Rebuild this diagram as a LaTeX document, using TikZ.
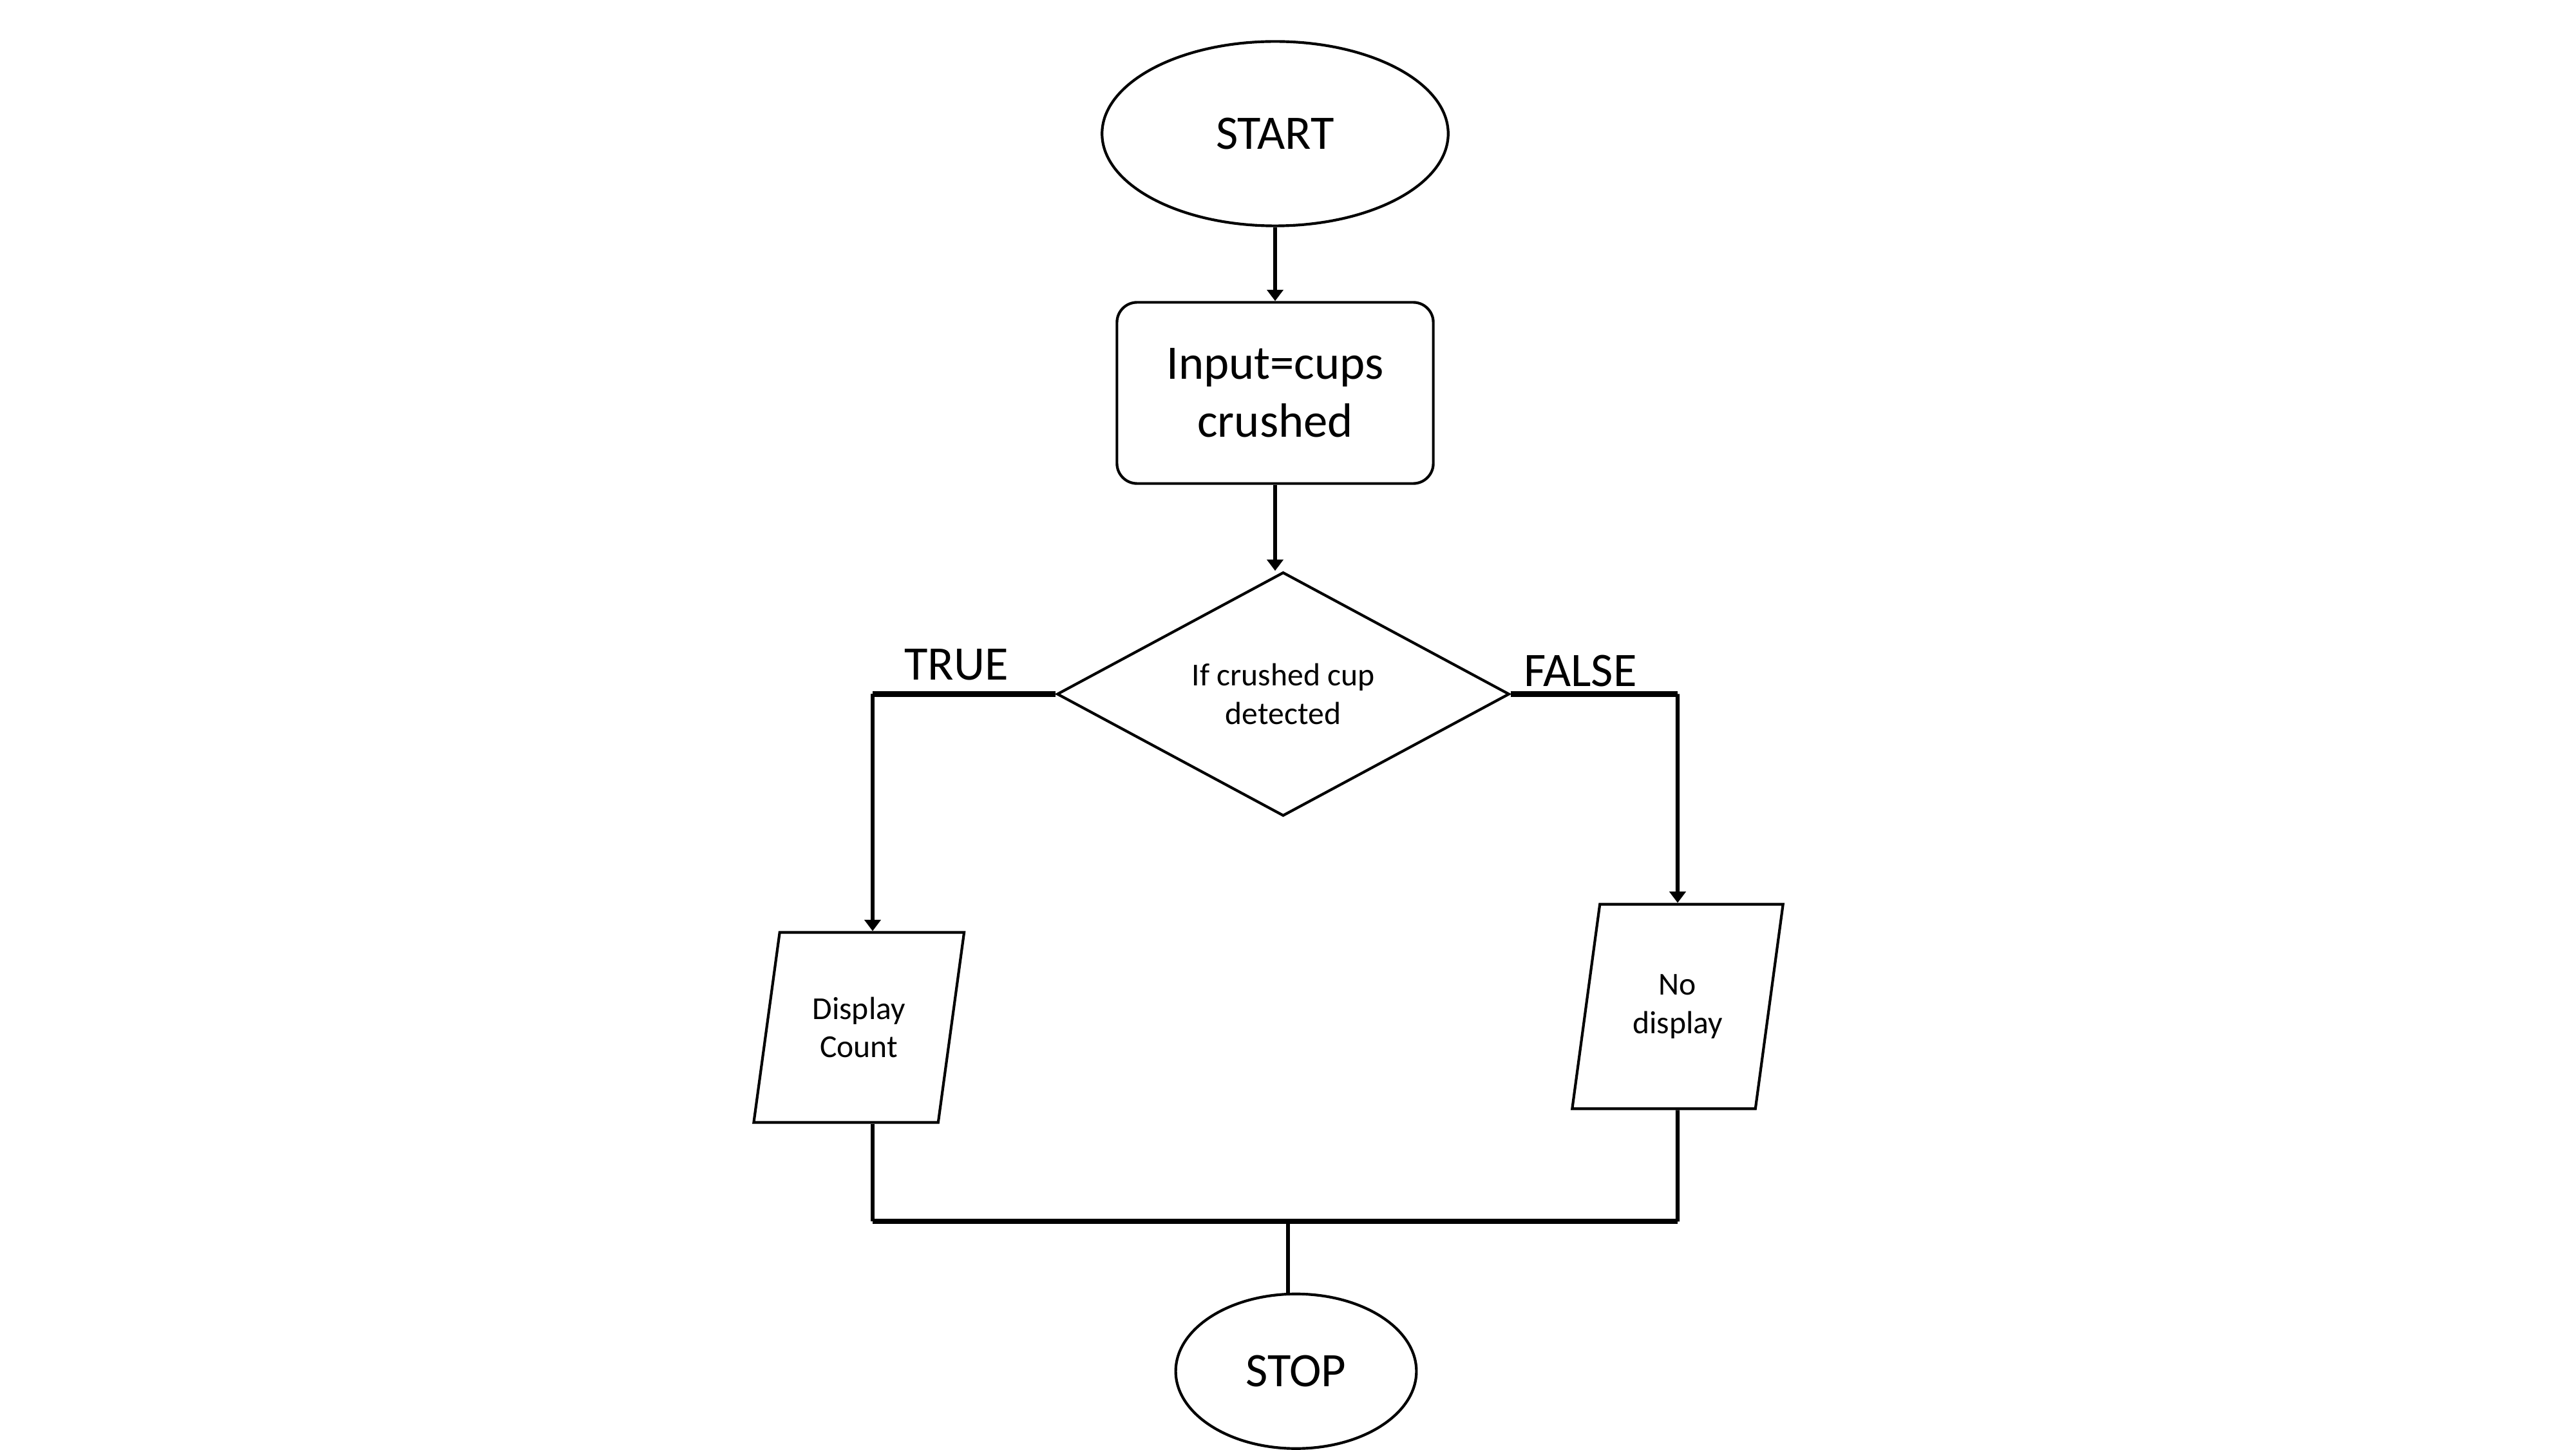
\documentclass[tikz,border=0pt]{standalone}
\usepackage{fontspec}
\setmainfont{Carlito}
\usepackage{tikz}
\usetikzlibrary{shapes.geometric, arrows.meta}

\begin{document}
\begin{tikzpicture}[
        line width=0.95pt,
        big/.style={font=\fontsize{17}{20.4}\selectfont},
        small/.style={font=\fontsize{11.3}{13.6}\selectfont},
        term/.style={draw, ellipse, inner sep=0pt, big},
        proc/.style={draw, rounded corners=0.25cm, minimum width=3.93cm, minimum height=2.25cm, align=center, big},
        decide/.style={draw, diamond, inner sep=0pt, minimum width=5.62cm, minimum height=2.88cm, align=center, small},
        io/.style={draw, trapezium, trapezium left angle=76, trapezium right angle=104, trapezium stretches=true, inner sep=0pt, minimum width=2.62cm, align=center, small},
        link/.style={line width=1.4pt},
        arr/.style={link, -{Triangle[length=1.4mm, width=2mm]}},
        bus/.style={line width=1.9pt}
    ]
        \useasboundingbox (0,0) rectangle (32,18);
        \node[term, minimum width=4.3cm, minimum height=2.29cm] (start) at (15.84,16.34) {START};
        \node[proc] (input) at (15.84,13.12) {Input=cups\\crushed};
        \node[decide] (check) at (15.94,9.38) {If crushed cup\\detected};
        \node[io, minimum height=2.36cm] (count) at (10.67,5.24) {Display\\Count};
        \node[io, minimum height=2.54cm] (nodisp) at (20.84,5.50) {No\\display};
        \node[term, minimum width=2.99cm, minimum height=1.92cm] (stop) at (16.10,0.97) {STOP};

        % branch ends and joins
        \coordinate (tl) at (10.84,9.38);
        \coordinate (fl) at (20.84,9.38);
        \coordinate (jl) at (10.84,2.83);
        \coordinate (jr) at (20.84,2.83);
        \coordinate (jm) at (16.00,2.83);

        \draw[arr] (start) -- (input);
        \draw[arr] (input) -- (input |- check.north);
        \draw[bus] (check.west) -- (tl); % TRUE branch
        \draw[bus] (check.east) -- (fl); % FALSE branch
        \node[big, above] (truelbl) at (11.88,9.42) {TRUE};
        \node[big, above] (falselbl) at (19.63,9.34) {FALSE};
        \draw[arr] (tl) -- (tl |- count.north);
        \draw[arr] (fl) -- (nodisp.north);
        \draw[link] (tl |- count.south) -- (jl);
        \draw[link] (nodisp.south) -- (jr);
        \draw[bus] (jl) -- (jr);
        \draw[link] (jm) -- (jm |- stop.north);
    \end{tikzpicture}
\end{document}
